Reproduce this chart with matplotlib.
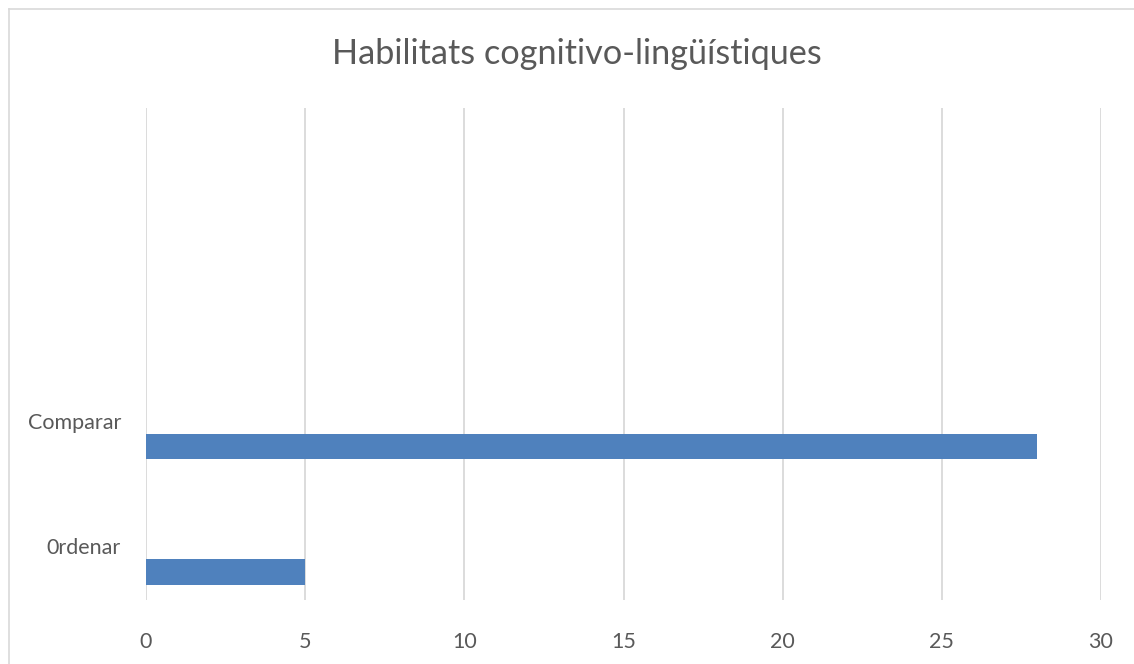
import matplotlib
matplotlib.use("Agg")
import matplotlib.pyplot as plt
from matplotlib.lines import Line2D

categories = ["0rdenar", "Comparar"]
values = [5, 28]
xticks = [0, 5, 10, 15, 20, 25, 30]
title = "Habilitats cognitivo-lingüístiques"

W, H = 1134, 664
fig = plt.figure(figsize=(W / 100, H / 100), dpi=100)
plt.rcParams['font.family'] = ['Lato', 'DejaVu Sans']

# plot area in pixels
x0, x1 = 146, 1101
y_top, y_bot = 108, 600
ax = fig.add_axes([x0 / W, 1 - y_bot / H, (x1 - x0) / W, (y_bot - y_top) / H])

gray = "#595959"
bar_color = "#4f81bd"

pos = list(range(len(categories)))
bar_h = 0.207
ax.barh([p - 0.207 for p in pos], values, height=bar_h, color=bar_color, zorder=3)

ax.set_xlim(0, 30)
ax.set_ylim(-0.43, 3.49)
ax.set_xticks(xticks)
ax.set_xticklabels([str(t) for t in xticks])
ax.set_yticks(pos)
ax.set_yticklabels(categories)
ax.tick_params(axis='x', length=0, pad=23, labelsize=15.5, labelcolor=gray)
ax.tick_params(axis='y', length=0, pad=18, labelsize=15.5, labelcolor=gray)
ax.grid(axis='x', color="#d9d9d9", linewidth=1.3, zorder=0)
ax.grid(axis='y', visible=False)
for s in ax.spines.values():
    s.set_visible(False)

fig.text(577 / W, 1 - 54 / H, title, ha='center', va='center', fontsize=24.7,
         color=gray, fontweight='normal')

# chart border
fig.add_artist(Line2D([9 / W, 1], [1 - 9 / H, 1 - 9 / H], transform=fig.transFigure,
                      color="#d9d9d9", linewidth=1.2))
fig.add_artist(Line2D([9 / W, 9 / W], [0, 1 - 9 / H], transform=fig.transFigure,
                      color="#d9d9d9", linewidth=1.2))

fig.savefig("out.png", dpi=100)
